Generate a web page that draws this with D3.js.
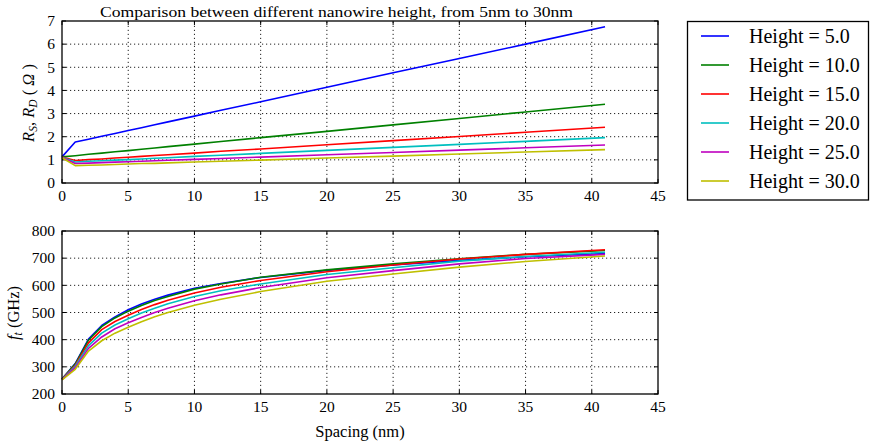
<!DOCTYPE html>
<html><head><meta charset="utf-8">
<script src="https://cdn.jsdelivr.net/npm/d3@7"></script>
<style>body{margin:0;background:#fff}svg{display:block}text{font-family:"Liberation Serif","Times New Roman",serif;fill:#000}</style>
</head><body><svg id="c" width="870" height="445"></svg>
<script>
const spacing = [0,1,2,3,4,5,6,7,8,10,12,15,20,25,30,35,41];
const heights = ["5.0","10.0","15.0","20.0","25.0","30.0"];
const colors = ["#0000ff","#008000","#ff0000","#00bfbf","#bf00bf","#bfbf00"];
// Rs,Rd (Ohm)
const rH5  = [1.13,1.77,1.89,2.02,2.14,2.27,2.39,2.52,2.64,2.89,3.14,3.51,4.14,4.76,5.38,6.00,6.75];
const rH10 = [1.13,1.18,1.24,1.29,1.35,1.40,1.46,1.51,1.57,1.68,1.79,1.96,2.23,2.51,2.79,3.07,3.40];
const rH15 = [1.12,0.97,1.01,1.04,1.08,1.11,1.15,1.19,1.22,1.29,1.37,1.47,1.65,1.83,2.01,2.19,2.41];
const rH20 = [1.11,0.91,0.94,0.96,0.99,1.01,1.04,1.07,1.09,1.15,1.20,1.28,1.41,1.54,1.67,1.80,1.96];
const rH25 = [1.10,0.84,0.86,0.88,0.90,0.92,0.94,0.96,0.98,1.02,1.06,1.12,1.22,1.32,1.42,1.52,1.64];
const rH30 = [1.09,0.75,0.77,0.78,0.80,0.82,0.84,0.85,0.87,0.91,0.94,0.99,1.08,1.16,1.25,1.34,1.44];
// ft (GHz)
const fH5  = [255,312,402,452,484,510,531,549,564,589,607,629,655,675,692,705,717];
const fH10 = [255,310,398,448,480,505,526,544,559,586,605,630,657,679,698,714,728];
const fH15 = [254,306,388,437,467,490,511,529,545,572,593,618,650,675,697,714,731];
const fH20 = [254,302,378,424,454,477,498,516,532,559,580,605,640,665,689,706,722];
const fH25 = [253,297,368,410,440,462,482,500,516,543,565,592,628,654,679,699,714];
const fH30 = [252,291,358,396,424,446,466,484,500,527,549,577,615,642,667,688,708];
const xTicks = [0,5,10,15,20,25,30,35,40,45];
const topYTicks = [0,1,2,3,4,5,6,7];
const botYTicks = [200,300,400,500,600,700,800];
const rSeries = [rH5,rH10,rH15,rH20,rH25,rH30];
const fSeries = [fH5,fH10,fH15,fH20,fH25,fH30];

const svg = d3.select("#c");
const L = 62, R = 658;
const x = d3.scaleLinear().domain([0,45]).range([L,R]);
const yT = d3.scaleLinear().domain([0,7]).range([183,21]);
const yB = d3.scaleLinear().domain([200,800]).range([394,231]);

function panel(y, yTicks, series, top) {
  const g = svg.append("g");
  const y0 = y.range()[0], y1 = y.range()[1];
  // grid
  g.selectAll(".gx").data(xTicks.slice(1,-1)).join("line")
    .attr("x1", d=>x(d)).attr("x2", d=>x(d)).attr("y1", y0).attr("y2", y1)
    .attr("stroke","#222").attr("stroke-width",1).attr("stroke-dasharray","1.2,2.8");
  g.selectAll(".gy").data(yTicks.slice(1,-1)).join("line")
    .attr("x1", L).attr("x2", R).attr("y1", d=>y(d)).attr("y2", d=>y(d))
    .attr("stroke","#222").attr("stroke-width",1).attr("stroke-dasharray","1.2,2.8");
  // ticks inward
  xTicks.forEach(t => {
    g.append("line").attr("x1",x(t)).attr("x2",x(t)).attr("y1",y0).attr("y2",y0-4).attr("stroke","#000");
    g.append("line").attr("x1",x(t)).attr("x2",x(t)).attr("y1",y1).attr("y2",y1+4).attr("stroke","#000");
  });
  yTicks.forEach(t => {
    g.append("line").attr("x1",L).attr("x2",L+4).attr("y1",y(t)).attr("y2",y(t)).attr("stroke","#000");
    g.append("line").attr("x1",R).attr("x2",R-4).attr("y1",y(t)).attr("y2",y(t)).attr("stroke","#000");
  });
  // lines
  const line = d3.line().x((d,i)=>x(spacing[i])).y(d=>y(d));
  series.forEach((s,i) => {
    g.append("path").attr("d", line(s)).attr("fill","none")
      .attr("stroke", colors[i]).attr("stroke-width",1.6).attr("stroke-linejoin","round");
  });
  // frame
  g.append("rect").attr("x",L).attr("y",y1).attr("width",R-L).attr("height",y0-y1)
    .attr("fill","none").attr("stroke","#000").attr("stroke-width",1.3);
  // tick labels
  g.selectAll(".xl").data(xTicks).join("text")
    .attr("x", d=>x(d)).attr("y", y0+18).attr("text-anchor","middle")
    .attr("font-size",15.5).text(d=>d);
  g.selectAll(".yl").data(yTicks).join("text")
    .attr("x", 55).attr("y", d=>y(d)).attr("dy","0.34em").attr("text-anchor","end")
    .attr("font-size",15.5).text(d=>d);
}
panel(yT, topYTicks, rSeries, true);
panel(yB, botYTicks, fSeries, false);

// title
svg.append("text").attr("x",100).attr("y",17).attr("font-size",15.5)
  .attr("textLength",473).attr("lengthAdjust","spacingAndGlyphs")
  .text("Comparison between different nanowire height, from 5nm to 30nm");

// y label top
const t1 = svg.append("text").attr("transform","translate(34,103) rotate(-90)")
  .attr("text-anchor","middle").attr("font-size",16.5);
t1.append("tspan").attr("font-style","italic").text("R");
t1.append("tspan").attr("font-style","italic").attr("font-size",11.5).attr("dy",3).text("S");
t1.append("tspan").attr("dy",-3).text(", ");
t1.append("tspan").attr("font-style","italic").text("R");
t1.append("tspan").attr("font-style","italic").attr("font-size",11.5).attr("dy",3).text("D");
t1.append("tspan").attr("dy",-3).text(" ( ");
t1.append("tspan").attr("font-style","italic").text("Ω");
t1.append("tspan").text(" )");

// y label bottom
const t2 = svg.append("text").attr("transform","translate(19,313) rotate(-90)")
  .attr("text-anchor","middle").attr("font-size",16.5);
t2.append("tspan").attr("font-style","italic").text("f");
t2.append("tspan").attr("font-style","italic").attr("font-size",11.5).attr("dy",3).text("t");
t2.append("tspan").attr("dy",-3).text(" (GHz)");

// x label
svg.append("text").attr("x",360).attr("y",437).attr("text-anchor","middle")
  .attr("font-size",16.5).text("Spacing (nm)");

// legend
const lg = svg.append("g");
lg.append("rect").attr("x",687.5).attr("y",21.5).attr("width",181).attr("height",178.5)
  .attr("fill","#fff").attr("stroke","#000").attr("stroke-width",1.3);
heights.forEach((h,i) => {
  const cy = 36 + i*29;
  lg.append("line").attr("x1",701).attr("x2",729).attr("y1",cy).attr("y2",cy)
    .attr("stroke",colors[i]).attr("stroke-width",1.6);
  lg.append("text").attr("x",749).attr("y",cy+6.5).attr("font-size",20)
    .text("Height = " + h);
});
</script></body></html>
